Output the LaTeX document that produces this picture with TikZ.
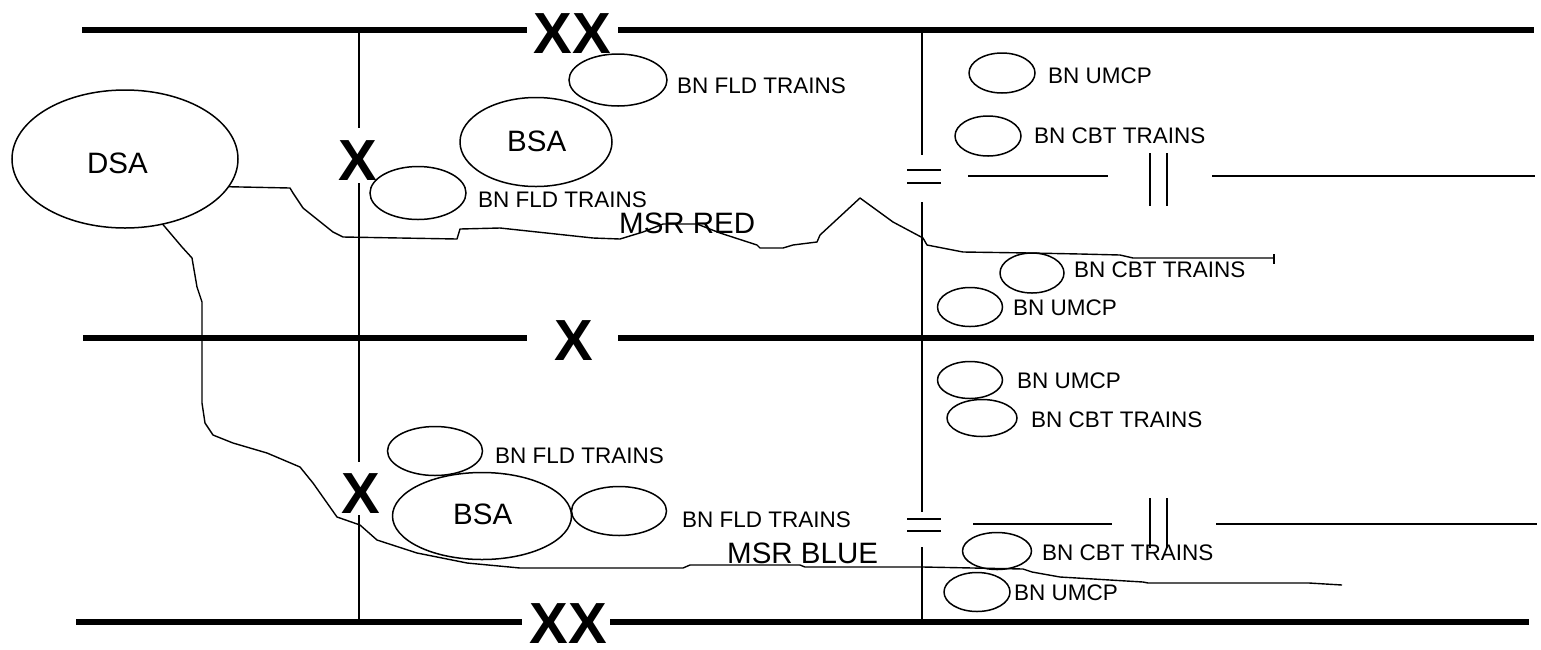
\documentclass[tikz,border=0pt]{standalone}
\usepackage{fontspec}
\setmainfont{Liberation Sans}
\usetikzlibrary{shapes.geometric}
\tikzset{
  bar/.style={line width=6pt},
  thinline/.style={line width=2pt},
  route/.style={line width=1.4pt, line join=round},
  oval/.style n args={2}{draw, ellipse, line width=1.5pt, inner sep=0pt, outer sep=0pt, minimum width=#1, minimum height=#2},
  lbl/.style={anchor=base west, inner sep=0pt, font=\fontsize{22.5}{27}\selectfont},
  big/.style={anchor=base west, inner sep=0pt, font=\fontsize{29.5}{35}\selectfont},
  xmark/.style={anchor=base, inner sep=0pt, font=\fontsize{58}{70}\selectfont\bfseries}
}
\begin{document}
\begin{tikzpicture}[x=1pt,y=-1pt]
\useasboundingbox (0,0) rectangle (1541,649);

% thick boundary lines
\draw[bar] (82,30) -- (527,30);
\draw[bar] (618,30) -- (1534,30);
\draw[bar] (83,338) -- (527,338);
\draw[bar] (618,338) -- (1534,338);
\draw[bar] (76,622) -- (522,622);
\draw[bar] (610,622) -- (1529,622);

% boundary markers
\node[xmark] (xxtop) at (572.5,53) {XX};
\node[xmark] (xmid) at (574,360) {X};
\node[xmark] (xxbot) at (568.5,643) {XX};
\node[xmark] (xul) at (357.5,180) {X};
\node[xmark] (xll) at (360.5,513) {X};

% vertical line left
\draw[thinline] (359,30) -- (359,128);
\draw[thinline] (359,183) -- (359,462);
\draw[thinline] (359,515) -- (359,622);

% vertical line right
\draw[thinline] (922,30) -- (922,155);
\draw[thinline] (922,202) -- (922,512);
\draw[thinline] (922,547) -- (922,622);
\draw[thinline] (907,170) -- (941,170);
\draw[thinline] (907,183) -- (941,183);
\draw[thinline] (907,519) -- (941,519);
\draw[thinline] (907,531) -- (941,531);

% right phase lines
\draw[thinline] (968,176) -- (1108,176);
\draw[thinline] (1212,176) -- (1535,176);
\draw[thinline] (1150,153) -- (1150,206);
\draw[thinline] (1167,153) -- (1167,206);
\draw[thinline] (973,524) -- (1112,524);
\draw[thinline] (1216,524) -- (1537,524);
\draw[thinline] (1150,498) -- (1150,548);
\draw[thinline] (1167,498) -- (1167,548);

% ellipses
\node[oval={226}{138}] (dsa) at (125,159) {};
\node[big] (dsat) at (87,173) {DSA};
\node[oval={152}{89}] (bsa1) at (536,142) {};
\node[big] (bsa1t) at (507,151) {BSA};
\node[oval={98}{52}] (fld1) at (618,80) {};
\node[lbl] (fld1t) at (677,93) {BN FLD TRAINS};
\node[oval={96}{53}] (fld2) at (418,193) {};
\node[lbl] (fld2t) at (478,207) {BN FLD TRAINS};
\node[oval={66}{40}] (umcp1) at (1002,73) {};
\node[lbl] (umcp1t) at (1048,83) {BN UMCP};
\node[oval={66}{40}] (cbt1) at (988,136) {};
\node[lbl] (cbt1t) at (1034,143) {BN CBT TRAINS};
\node[oval={64}{40}] (cbt2) at (1032,273) {};
\node[lbl] (cbt2t) at (1074,277) {BN CBT TRAINS};
\node[oval={65}{39}] (umcp2) at (970,307) {};
\node[lbl] (umcp2t) at (1013,315) {BN UMCP};

\node[oval={65}{37}] (umcp3) at (970,380) {};
\node[lbl] (umcp3t) at (1017,388) {BN UMCP};
\node[oval={70}{37}] (cbt3) at (982,418) {};
\node[lbl] (cbt3t) at (1031,427) {BN CBT TRAINS};
\node[oval={95}{49}] (fld3) at (435,451) {};
\node[lbl] (fld3t) at (495,463) {BN FLD TRAINS};
\node[oval={179}{87}] (bsa2) at (482,516) {};
\node[big] (bsa2t) at (453,524) {BSA};
\node[oval={95}{49}] (fld4) at (619,511) {};
\node[lbl] (fld4t) at (682,527) {BN FLD TRAINS};
\node[oval={69}{37}] (cbt4) at (997,551) {};
\node[lbl] (cbt4t) at (1042,560) {BN CBT TRAINS};
\node[oval={66}{39}] (umcp4) at (977,592) {};
\node[lbl] (umcp4t) at (1014,600) {BN UMCP};

% MSR RED
\coordinate (redend) at (1274,258);
\draw[route] (dsa.-15) -- (290,188) -- (293,193) -- (303,208) -- (333,232) -- (343,237)
  -- (457,239) -- (460,229) -- (500,228) -- (593,238) -- (620,239) -- (643,232)
  -- (663,224) -- (697,224) -- (720,233) -- (757,245) -- (760,248) -- (783,248)
  -- (793,245) -- (817,242) -- (820,235) -- (860,198) -- (893,222) -- (923,238)
  -- (927,245) -- (963,252) -- (1030,253) -- (1080,254) -- (1120,255) -- (1133,258)
  -- (redend);
\draw[route] ([yshift=4pt]redend) -- ([yshift=-6pt]redend);
\node[big] (msrred) at (619,233) {MSR RED};

% MSR BLUE
\coordinate (blueend) at (1342,585);
\draw[route] (dsa.-60) -- (182,247) -- (192,258) -- (197,287) -- (202,302) -- (202,403)
  -- (205,423) -- (213,435) -- (233,443) -- (267,453) -- (300,467) -- (313,483)
  -- (337,517) -- (360,525) -- (377,540) -- (417,553) -- (467,563) -- (520,568)
  -- (683,568) -- (690,565) -- (800,565) -- (805,567) -- (923,567) -- (973,568)
  -- (1023,569) -- (1032,572) -- (1060,577) -- (1077,578) -- (1143,582) -- (1148,583)
  -- (1309,583) -- (blueend);
\node[big] (msrblue) at (727,563) {MSR BLUE};
\end{tikzpicture}
\end{document}
